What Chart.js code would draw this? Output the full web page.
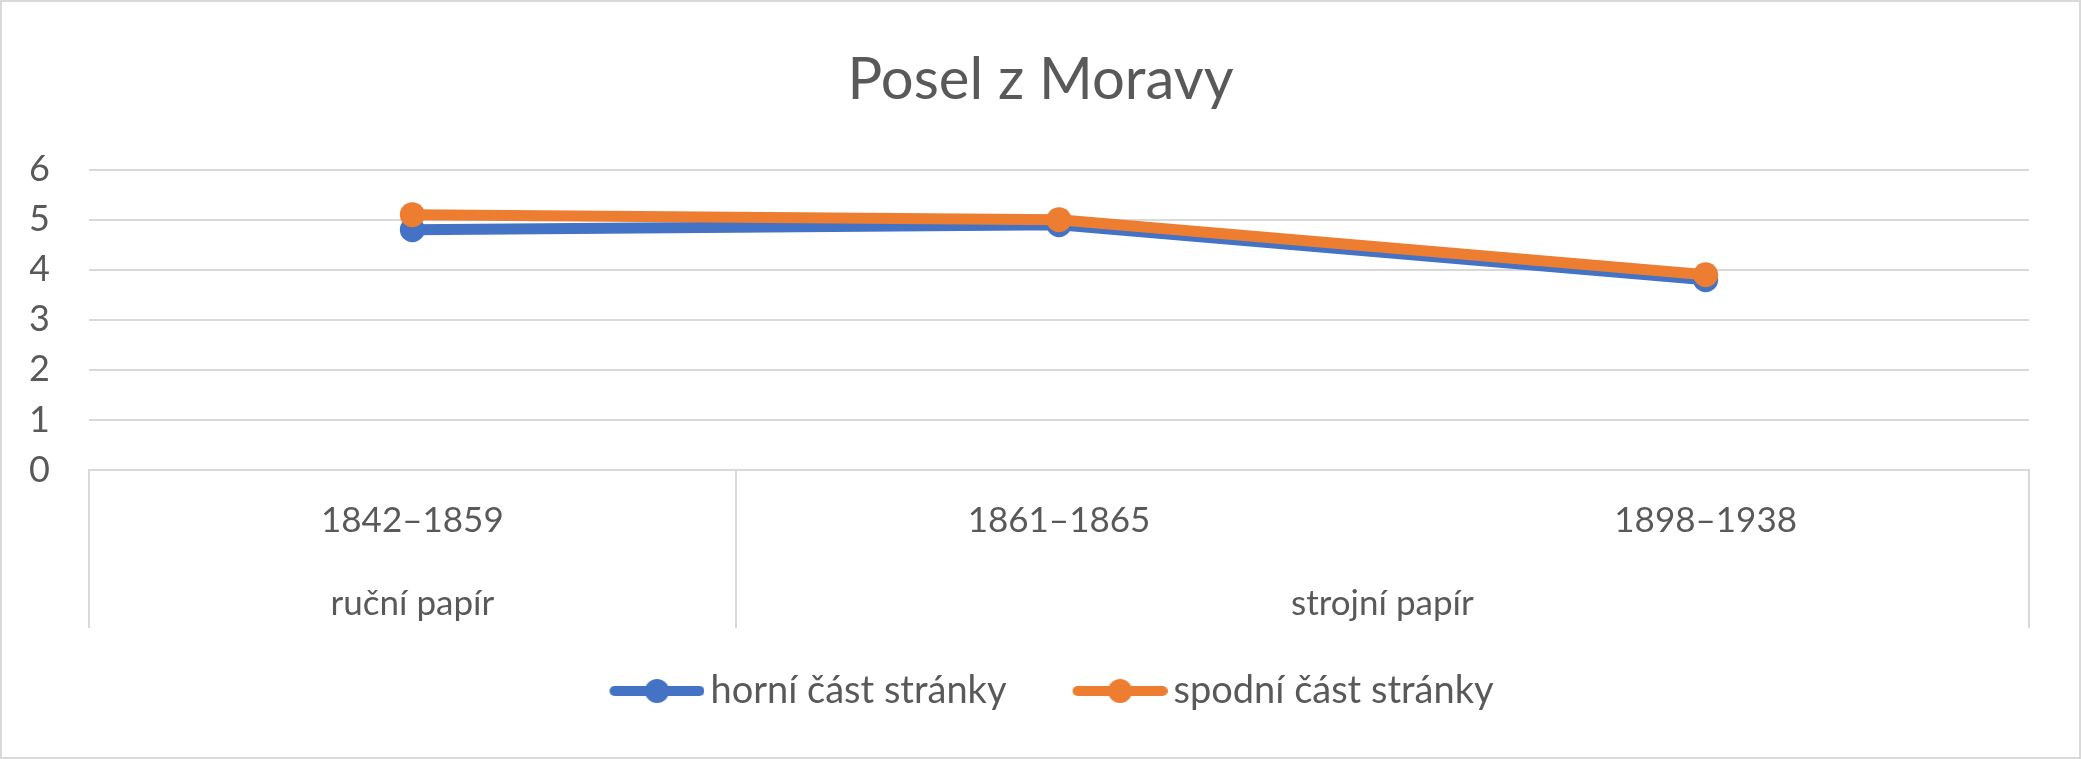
<!DOCTYPE html>
<html>
<head>
<meta charset="utf-8">
<script src="https://cdn.jsdelivr.net/npm/chart.js@4"></script>
<style>
  body { margin: 0; background: #fff; }
  #wrap { width: 2081px; height: 759px; position: relative; }
</style>
</head>
<body>
<div id="wrap"><canvas id="graf"></canvas></div>
<script>
const obdobi = ['1842–1859', '1861–1865', '1898–1938'];
const horni = [4.8, 4.9, 3.8];
const spodni = [5.1, 5.0, 3.9];
const skupiny = ['ruční papír', 'strojní papír'];
const rozsahSkupin = [[0, 0], [1, 2]];
const yTicks = [0, 1, 2, 3, 4, 5, 6];

const modra = '#4472C4';
const oranzova = '#ED7D31';
const seda = '#d9d9d9';
const text = '#595959';
const pismo = 'Lato';

const stredySkupin = rozsahSkupin.map(r => (r[0] + r[1]) / 2);

// ikona do legendy: cara s koleckem (jako v Excelu)
function ikona(barva) {
  const c = document.createElement('canvas');
  c.width = 130; c.height = 26;
  const g = c.getContext('2d');
  g.strokeStyle = barva; g.lineWidth = 10; g.lineCap = 'round';
  g.beginPath(); g.moveTo(40, 13); g.lineTo(125, 13); g.stroke();
  g.fillStyle = barva;
  g.beginPath(); g.arc(82.5, 13, 12, 0, Math.PI * 2); g.fill();
  return c;
}
const ikony = [ikona(modra), ikona(oranzova)];

const ramecek = {
  id: 'ramecek',
  beforeDraw(chart) {
    const ctx = chart.ctx;
    ctx.save();
    ctx.fillStyle = '#fff';
    ctx.fillRect(0, 0, chart.width, chart.height);
    ctx.strokeStyle = seda; ctx.lineWidth = 2;
    ctx.strokeRect(1, 1, chart.width - 2, chart.height - 2);
    ctx.restore();
  },
  afterDraw(chart) {
    const { ctx, scales: { x, x2 } } = chart;
    const hranice = rozsahSkupin.map(r => r[0] - 0.5);
    hranice.push(rozsahSkupin[rozsahSkupin.length - 1][1] + 0.5);
    ctx.save();
    ctx.strokeStyle = seda; ctx.lineWidth = 2;
    hranice.forEach(h => {
      const px = Math.round(x2.getPixelForValue(h));
      ctx.beginPath(); ctx.moveTo(px, x.top); ctx.lineTo(px, x2.bottom); ctx.stroke();
    });
    ctx.restore();
  }
};

new Chart(document.getElementById('graf'), {
  type: 'line',
  data: {
    labels: obdobi,
    datasets: [{
      label: 'horní část stránky',
      data: horni,
      borderColor: modra,
      backgroundColor: modra,
      borderWidth: 11,
      pointRadius: 12.5,
      pointHoverRadius: 12.5,
      pointBorderWidth: 0,
      order: 1
    }, {
      label: 'spodní část stránky',
      data: spodni,
      borderColor: oranzova,
      backgroundColor: oranzova,
      borderWidth: 11,
      pointRadius: 12.5,
      pointHoverRadius: 12.5,
      pointBorderWidth: 0,
      order: 0
    }]
  },
  options: {
    responsive: true,
    maintainAspectRatio: false,
    animation: false,
    layout: { padding: { left: 30, right: 30, top: 0, bottom: 39 } },
    plugins: {
      title: {
        display: true,
        text: 'Posel z Moravy',
        color: text,
        font: { family: pismo, size: 58, weight: 'normal' },
        padding: { top: 45, bottom: 55 }
      },
      legend: {
        position: 'bottom',
        labels: {
          usePointStyle: true,
          pointStyleWidth: 104,
          padding: 44,
          color: text,
          font: { family: pismo, size: 38 },
          sort: (a, b) => a.datasetIndex - b.datasetIndex,
          generateLabels(chart) {
            const items = Chart.defaults.plugins.legend.labels.generateLabels(chart);
            items.forEach(it => { it.pointStyle = ikony[it.datasetIndex]; });
            return items;
          }
        }
      },
      tooltip: { enabled: false }
    },
    scales: {
      y: {
        min: 0,
        max: 6,
        afterBuildTicks: s => { s.ticks = yTicks.map(v => ({ value: v })); },
        afterFit: s => { s.width = 59; },
        grid: { color: seda, lineWidth: 2, drawTicks: false },
        border: { display: false },
        ticks: { color: text, font: { family: pismo, size: 36 }, padding: 39, autoSkip: false }
      },
      // prazdna osa vpravo, jen kvuli symetrickemu okraji
      yPravo: {
        position: 'right',
        min: 0,
        max: 6,
        afterFit: s => { s.width = 22; },
        grid: { display: false, drawTicks: false },
        border: { display: false },
        ticks: { display: false }
      },
      x: {
        offset: true,
        afterFit: s => { s.height = 100; },
        grid: { drawOnChartArea: false, drawTicks: false },
        border: { color: seda, width: 2 },
        ticks: { color: text, font: { family: pismo, size: 35 }, padding: 30, maxRotation: 0 }
      },
      x2: {
        type: 'linear',
        position: 'bottom',
        min: -0.5,
        max: 2.5,
        afterBuildTicks: s => { s.ticks = stredySkupin.map(v => ({ value: v })); },
        afterFit: s => { s.height = 58; },
        grid: { display: false, drawTicks: false },
        border: { display: false },
        ticks: {
          color: text,
          font: { family: pismo, size: 35 },
          padding: 13,
          maxRotation: 0,
          autoSkip: false,
          callback: v => skupiny[stredySkupin.indexOf(v)]
        }
      }
    }
  },
  plugins: [ramecek]
});
</script>
</body>
</html>
